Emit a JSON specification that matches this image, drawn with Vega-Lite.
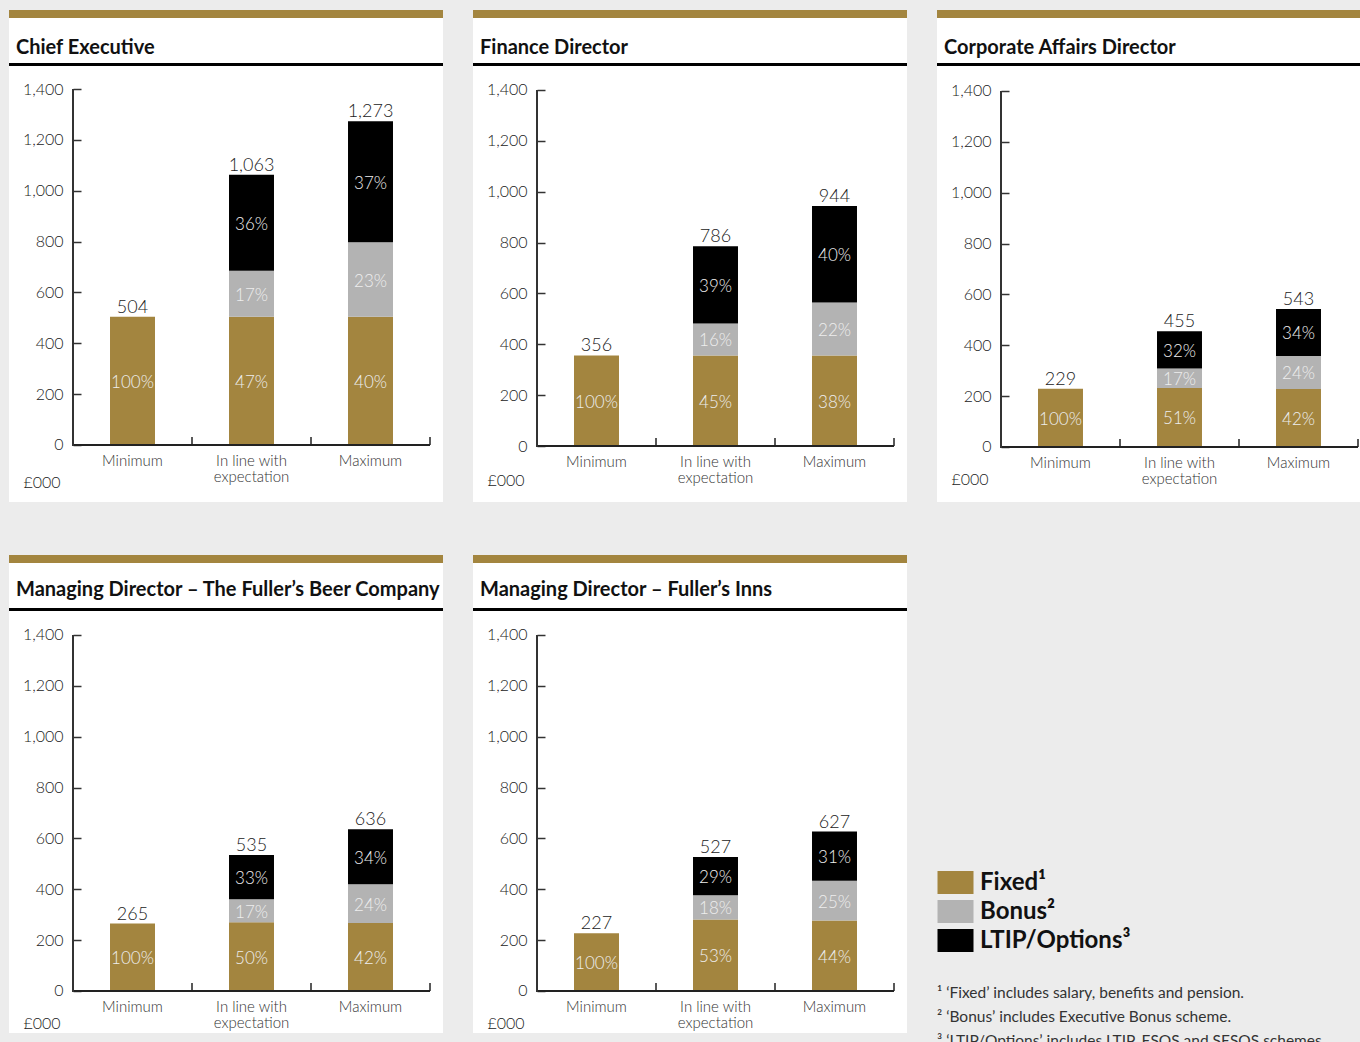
{
  "$schema": "https://vega.github.io/schema/vega-lite/v6.json",
  "background": "#ececec",
  "padding": {"left": 9, "top": 10, "right": 0, "bottom": 0},
  "data": {"values": [
    {"panel": "CE", "scenario": "Minimum", "component": "Fixed", "value": 504, "share": "100%"},
    {"panel": "CE", "scenario": "In line with expectation", "component": "Fixed", "value": 504, "share": "47%"},
    {"panel": "CE", "scenario": "In line with expectation", "component": "Bonus", "value": 181, "share": "17%"},
    {"panel": "CE", "scenario": "In line with expectation", "component": "LTIP/Options", "value": 378, "share": "36%"},
    {"panel": "CE", "scenario": "Maximum", "component": "Fixed", "value": 504, "share": "40%"},
    {"panel": "CE", "scenario": "Maximum", "component": "Bonus", "value": 293, "share": "23%"},
    {"panel": "CE", "scenario": "Maximum", "component": "LTIP/Options", "value": 476, "share": "37%"},
    {"panel": "FD", "scenario": "Minimum", "component": "Fixed", "value": 356, "share": "100%"},
    {"panel": "FD", "scenario": "In line with expectation", "component": "Fixed", "value": 356, "share": "45%"},
    {"panel": "FD", "scenario": "In line with expectation", "component": "Bonus", "value": 126, "share": "16%"},
    {"panel": "FD", "scenario": "In line with expectation", "component": "LTIP/Options", "value": 304, "share": "39%"},
    {"panel": "FD", "scenario": "Maximum", "component": "Fixed", "value": 356, "share": "38%"},
    {"panel": "FD", "scenario": "Maximum", "component": "Bonus", "value": 208, "share": "22%"},
    {"panel": "FD", "scenario": "Maximum", "component": "LTIP/Options", "value": 380, "share": "40%"},
    {"panel": "CAD", "scenario": "Minimum", "component": "Fixed", "value": 229, "share": "100%"},
    {"panel": "CAD", "scenario": "In line with expectation", "component": "Fixed", "value": 232, "share": "51%"},
    {"panel": "CAD", "scenario": "In line with expectation", "component": "Bonus", "value": 77, "share": "17%"},
    {"panel": "CAD", "scenario": "In line with expectation", "component": "LTIP/Options", "value": 146, "share": "32%"},
    {"panel": "CAD", "scenario": "Maximum", "component": "Fixed", "value": 228, "share": "42%"},
    {"panel": "CAD", "scenario": "Maximum", "component": "Bonus", "value": 130, "share": "24%"},
    {"panel": "CAD", "scenario": "Maximum", "component": "LTIP/Options", "value": 185, "share": "34%"},
    {"panel": "MDB", "scenario": "Minimum", "component": "Fixed", "value": 265, "share": "100%"},
    {"panel": "MDB", "scenario": "In line with expectation", "component": "Fixed", "value": 270, "share": "50%"},
    {"panel": "MDB", "scenario": "In line with expectation", "component": "Bonus", "value": 91, "share": "17%"},
    {"panel": "MDB", "scenario": "In line with expectation", "component": "LTIP/Options", "value": 174, "share": "33%"},
    {"panel": "MDB", "scenario": "Maximum", "component": "Fixed", "value": 267, "share": "42%"},
    {"panel": "MDB", "scenario": "Maximum", "component": "Bonus", "value": 153, "share": "24%"},
    {"panel": "MDB", "scenario": "Maximum", "component": "LTIP/Options", "value": 216, "share": "34%"},
    {"panel": "MDI", "scenario": "Minimum", "component": "Fixed", "value": 227, "share": "100%"},
    {"panel": "MDI", "scenario": "In line with expectation", "component": "Fixed", "value": 281, "share": "53%"},
    {"panel": "MDI", "scenario": "In line with expectation", "component": "Bonus", "value": 96, "share": "18%"},
    {"panel": "MDI", "scenario": "In line with expectation", "component": "LTIP/Options", "value": 150, "share": "29%"},
    {"panel": "MDI", "scenario": "Maximum", "component": "Fixed", "value": 277, "share": "44%"},
    {"panel": "MDI", "scenario": "Maximum", "component": "Bonus", "value": 157, "share": "25%"},
    {"panel": "MDI", "scenario": "Maximum", "component": "LTIP/Options", "value": 193, "share": "31%"}
  ]},
  "spacing": 53,
  "vconcat": [
    {
      "spacing": 30,
      "bounds": "flush",
      "hconcat": [
        {
          "width": 434, "height": 492,
          "view": {"fill": "#ffffff", "stroke": null},
          "title": {"text": "Chief Executive", "offset": -48},
          "transform": [
            {"filter": "datum.panel == 'CE'"},
            {"calculate": "indexof(['Fixed','Bonus','LTIP/Options'], datum.component)", "as": "k"},
            {"stack": "value", "groupby": ["scenario"], "sort": [{"field": "k", "order": "ascending"}], "as": ["v0", "v1"]},
            {"calculate": "(datum.v0 + datum.v1) / 2", "as": "mid"}
          ],
          "layer": [
            {"data": {"values": [{}]}, "mark": {"type": "rect", "color": "#a3853f"}, "encoding": {"y": {"datum": 1710.7, "type": "quantitative"}, "y2": {"datum": 1679.2}}},
            {"data": {"values": [{}]}, "mark": {"type": "rect", "color": "#000000"}, "encoding": {"y": {"datum": 1502.3, "type": "quantitative"}, "y2": {"datum": 1490.5}}},
            {"mark": {"type": "bar", "width": {"band": 0.378}}, "encoding": {
              "x": {"field": "scenario", "type": "nominal", "scale": {"domain": ["Minimum", "In line with expectation", "Maximum"], "paddingInner": 0, "paddingOuter": 0.32353, "align": 0.8312}, "axis": {"offset": -57, "title": null}},
              "y": {"field": "v0", "type": "quantitative", "scale": {"domain": [-224.2, 1710.7], "nice": false, "zero": false}, "axis": {"offset": -64, "values": [0, 200, 400, 600, 800, 1000, 1200, 1400], "title": "£000", "titleY": 477}},
              "y2": {"field": "v1"},
              "color": {"field": "component", "type": "nominal", "scale": {"domain": ["Fixed", "Bonus", "LTIP/Options"], "range": ["#a3853f", "#b3b3b3", "#000000"]},
                "legend": {"title": null, "orient": "none", "legendX": 934.5, "legendY": 860.5, "direction": "vertical", "symbolType": "M-1.565,-1L1.565,-1L1.565,1L-1.565,1Z", "symbolSize": 529, "symbolStrokeWidth": 0, "symbolOpacity": 1, "labelFont": "Lato", "labelFontSize": 24, "labelFontWeight": "bold", "labelColor": "#111111", "labelOffset": 12.5, "rowPadding": 5, "padding": 0, "labelLimit": 400, "labelExpr": "datum.label == 'Fixed' ? 'Fixed¹' : datum.label == 'Bonus' ? 'Bonus²' : 'LTIP/Options³'"}}
            }},
            {"mark": {"type": "text", "font": "Lato", "fontWeight": 300, "fontSize": 17, "color": "#eeeeee", "baseline": "middle", "dy": 2}, "encoding": {
              "x": {"field": "scenario", "type": "nominal"},
              "y": {"field": "mid", "type": "quantitative"},
              "text": {"field": "share"}}},
            {"transform": [{"aggregate": [{"op": "sum", "field": "value", "as": "total"}], "groupby": ["scenario"]}],
              "mark": {"type": "text", "font": "Lato", "fontWeight": 300, "fontSize": 18, "color": "#222222", "baseline": "alphabetic", "dy": -4},
              "encoding": {"x": {"field": "scenario", "type": "nominal"}, "y": {"field": "total", "type": "quantitative"}, "text": {"field": "total", "type": "quantitative", "format": ","}}},
            {"transform": [{"aggregate": [{"op": "count", "as": "n"}], "groupby": ["scenario"]}],
              "mark": {"type": "rect", "color": "#222222"},
              "encoding": {"x": {"field": "scenario", "type": "nominal"}, "y": {"datum": 4, "type": "quantitative"}, "y2": {"datum": -4}}},
            {"transform": [{"aggregate": [{"op": "count", "as": "n"}], "groupby": ["scenario"]}],
              "mark": {"type": "rule", "color": "#222222", "strokeWidth": 1.5},
              "encoding": {"x": {"field": "scenario", "type": "nominal", "bandPosition": 1}, "y": {"datum": 0, "type": "quantitative"}, "y2": {"datum": 31.5}}},
            {"transform": [{"aggregate": [{"op": "count", "as": "n"}], "groupby": ["scenario"]}, {"filter": "datum.scenario == 'Minimum'"}],
              "mark": {"type": "rule", "color": "#333333", "strokeWidth": 2},
              "encoding": {"x": {"field": "scenario", "type": "nominal", "bandPosition": 0}, "y": {"datum": -4, "type": "quantitative"}, "y2": {"datum": 1400}}}
          ]
        },
        {
          "width": 434, "height": 492,
          "view": {"fill": "#ffffff", "stroke": null},
          "title": {"text": "Finance Director", "offset": -48},
          "transform": [
            {"filter": "datum.panel == 'FD'"},
            {"calculate": "indexof(['Fixed','Bonus','LTIP/Options'], datum.component)", "as": "k"},
            {"stack": "value", "groupby": ["scenario"], "sort": [{"field": "k", "order": "ascending"}], "as": ["v0", "v1"]},
            {"calculate": "(datum.v0 + datum.v1) / 2", "as": "mid"}
          ],
          "layer": [
            {"data": {"values": [{}]}, "mark": {"type": "rect", "color": "#a3853f"}, "encoding": {"y": {"datum": 1714.6, "type": "quantitative"}, "y2": {"datum": 1683.1}}},
            {"data": {"values": [{}]}, "mark": {"type": "rect", "color": "#000000"}, "encoding": {"y": {"datum": 1506.2, "type": "quantitative"}, "y2": {"datum": 1494.4}}},
            {"mark": {"type": "bar", "width": {"band": 0.378}}, "encoding": {
              "x": {"field": "scenario", "type": "nominal", "scale": {"domain": ["Minimum", "In line with expectation", "Maximum"], "paddingInner": 0, "paddingOuter": 0.32353, "align": 0.8312}, "axis": {"offset": -56, "title": null}},
              "y": {"field": "v0", "type": "quantitative", "scale": {"domain": [-220.2, 1714.6], "nice": false, "zero": false}, "axis": {"offset": -64, "values": [0, 200, 400, 600, 800, 1000, 1200, 1400], "title": "£000", "titleY": 475}},
              "y2": {"field": "v1"},
              "color": {"field": "component", "type": "nominal", "scale": {"domain": ["Fixed", "Bonus", "LTIP/Options"], "range": ["#a3853f", "#b3b3b3", "#000000"]},
                "legend": {"title": null, "orient": "none", "legendX": 934.5, "legendY": 860.5, "direction": "vertical", "symbolType": "M-1.565,-1L1.565,-1L1.565,1L-1.565,1Z", "symbolSize": 529, "symbolStrokeWidth": 0, "symbolOpacity": 1, "labelFont": "Lato", "labelFontSize": 24, "labelFontWeight": "bold", "labelColor": "#111111", "labelOffset": 12.5, "rowPadding": 5, "padding": 0, "labelLimit": 400, "labelExpr": "datum.label == 'Fixed' ? 'Fixed¹' : datum.label == 'Bonus' ? 'Bonus²' : 'LTIP/Options³'"}}
            }},
            {"mark": {"type": "text", "font": "Lato", "fontWeight": 300, "fontSize": 17, "color": "#eeeeee", "baseline": "middle", "dy": 2}, "encoding": {
              "x": {"field": "scenario", "type": "nominal"},
              "y": {"field": "mid", "type": "quantitative"},
              "text": {"field": "share"}}},
            {"transform": [{"aggregate": [{"op": "sum", "field": "value", "as": "total"}], "groupby": ["scenario"]}],
              "mark": {"type": "text", "font": "Lato", "fontWeight": 300, "fontSize": 18, "color": "#222222", "baseline": "alphabetic", "dy": -4},
              "encoding": {"x": {"field": "scenario", "type": "nominal"}, "y": {"field": "total", "type": "quantitative"}, "text": {"field": "total", "type": "quantitative", "format": ","}}},
            {"transform": [{"aggregate": [{"op": "count", "as": "n"}], "groupby": ["scenario"]}],
              "mark": {"type": "rect", "color": "#222222"},
              "encoding": {"x": {"field": "scenario", "type": "nominal"}, "y": {"datum": 4, "type": "quantitative"}, "y2": {"datum": -4}}},
            {"transform": [{"aggregate": [{"op": "count", "as": "n"}], "groupby": ["scenario"]}],
              "mark": {"type": "rule", "color": "#222222", "strokeWidth": 1.5},
              "encoding": {"x": {"field": "scenario", "type": "nominal", "bandPosition": 1}, "y": {"datum": 0, "type": "quantitative"}, "y2": {"datum": 31.5}}},
            {"transform": [{"aggregate": [{"op": "count", "as": "n"}], "groupby": ["scenario"]}, {"filter": "datum.scenario == 'Minimum'"}],
              "mark": {"type": "rule", "color": "#333333", "strokeWidth": 2},
              "encoding": {"x": {"field": "scenario", "type": "nominal", "bandPosition": 0}, "y": {"datum": -4, "type": "quantitative"}, "y2": {"datum": 1400}}}
          ]
        },
        {
          "width": 423, "height": 492,
          "view": {"fill": "#ffffff", "stroke": null},
          "title": {"text": "Corporate Affairs Director", "offset": -48},
          "transform": [
            {"filter": "datum.panel == 'CAD'"},
            {"calculate": "indexof(['Fixed','Bonus','LTIP/Options'], datum.component)", "as": "k"},
            {"stack": "value", "groupby": ["scenario"], "sort": [{"field": "k", "order": "ascending"}], "as": ["v0", "v1"]},
            {"calculate": "(datum.v0 + datum.v1) / 2", "as": "mid"}
          ],
          "layer": [
            {"data": {"values": [{}]}, "mark": {"type": "rect", "color": "#a3853f"}, "encoding": {"y": {"datum": 1718.5, "type": "quantitative"}, "y2": {"datum": 1687.0}}},
            {"data": {"values": [{}]}, "mark": {"type": "rect", "color": "#000000"}, "encoding": {"y": {"datum": 1510.1, "type": "quantitative"}, "y2": {"datum": 1498.3}}},
            {"mark": {"type": "bar", "width": {"band": 0.378}}, "encoding": {
              "x": {"field": "scenario", "type": "nominal", "scale": {"domain": ["Minimum", "In line with expectation", "Maximum"], "paddingInner": 0, "paddingOuter": 0.27731, "align": 0.9697}, "axis": {"offset": -55, "title": null}},
              "y": {"field": "v0", "type": "quantitative", "scale": {"domain": [-216.3, 1718.5], "nice": false, "zero": false}, "axis": {"offset": -64, "values": [0, 200, 400, 600, 800, 1000, 1200, 1400], "title": "£000", "titleY": 474}},
              "y2": {"field": "v1"},
              "color": {"field": "component", "type": "nominal", "scale": {"domain": ["Fixed", "Bonus", "LTIP/Options"], "range": ["#a3853f", "#b3b3b3", "#000000"]},
                "legend": {"title": null, "orient": "none", "legendX": 934.5, "legendY": 860.5, "direction": "vertical", "symbolType": "M-1.565,-1L1.565,-1L1.565,1L-1.565,1Z", "symbolSize": 529, "symbolStrokeWidth": 0, "symbolOpacity": 1, "labelFont": "Lato", "labelFontSize": 24, "labelFontWeight": "bold", "labelColor": "#111111", "labelOffset": 12.5, "rowPadding": 5, "padding": 0, "labelLimit": 400, "labelExpr": "datum.label == 'Fixed' ? 'Fixed¹' : datum.label == 'Bonus' ? 'Bonus²' : 'LTIP/Options³'"}}
            }},
            {"mark": {"type": "text", "font": "Lato", "fontWeight": 300, "fontSize": 17, "color": "#eeeeee", "baseline": "middle", "dy": 2}, "encoding": {
              "x": {"field": "scenario", "type": "nominal"},
              "y": {"field": "mid", "type": "quantitative"},
              "text": {"field": "share"}}},
            {"transform": [{"aggregate": [{"op": "sum", "field": "value", "as": "total"}], "groupby": ["scenario"]}],
              "mark": {"type": "text", "font": "Lato", "fontWeight": 300, "fontSize": 18, "color": "#222222", "baseline": "alphabetic", "dy": -4},
              "encoding": {"x": {"field": "scenario", "type": "nominal"}, "y": {"field": "total", "type": "quantitative"}, "text": {"field": "total", "type": "quantitative", "format": ","}}},
            {"transform": [{"aggregate": [{"op": "count", "as": "n"}], "groupby": ["scenario"]}],
              "mark": {"type": "rect", "color": "#222222"},
              "encoding": {"x": {"field": "scenario", "type": "nominal"}, "y": {"datum": 4, "type": "quantitative"}, "y2": {"datum": -4}}},
            {"transform": [{"aggregate": [{"op": "count", "as": "n"}], "groupby": ["scenario"]}],
              "mark": {"type": "rule", "color": "#222222", "strokeWidth": 1.5},
              "encoding": {"x": {"field": "scenario", "type": "nominal", "bandPosition": 1}, "y": {"datum": 0, "type": "quantitative"}, "y2": {"datum": 31.5}}},
            {"transform": [{"aggregate": [{"op": "count", "as": "n"}], "groupby": ["scenario"]}, {"filter": "datum.scenario == 'Minimum'"}],
              "mark": {"type": "rule", "color": "#333333", "strokeWidth": 2},
              "encoding": {"x": {"field": "scenario", "type": "nominal", "bandPosition": 0}, "y": {"datum": -4, "type": "quantitative"}, "y2": {"datum": 1400}}}
          ]
        }
      ]
    },
    {
      "spacing": 30,
      "bounds": "flush",
      "hconcat": [
        {
          "width": 434, "height": 478,
          "view": {"fill": "#ffffff", "stroke": null},
          "title": {"text": "Managing Director – The Fuller’s Beer Company", "offset": -45},
          "transform": [
            {"filter": "datum.panel == 'MDB'"},
            {"calculate": "indexof(['Fixed','Bonus','LTIP/Options'], datum.component)", "as": "k"},
            {"stack": "value", "groupby": ["scenario"], "sort": [{"field": "k", "order": "ascending"}], "as": ["v0", "v1"]},
            {"calculate": "(datum.v0 + datum.v1) / 2", "as": "mid"}
          ],
          "layer": [
            {"data": {"values": [{}]}, "mark": {"type": "rect", "color": "#a3853f"}, "encoding": {"y": {"datum": 1714.6, "type": "quantitative"}, "y2": {"datum": 1683.1}}},
            {"data": {"values": [{}]}, "mark": {"type": "rect", "color": "#000000"}, "encoding": {"y": {"datum": 1506.2, "type": "quantitative"}, "y2": {"datum": 1494.4}}},
            {"mark": {"type": "bar", "width": {"band": 0.378}}, "encoding": {
              "x": {"field": "scenario", "type": "nominal", "scale": {"domain": ["Minimum", "In line with expectation", "Maximum"], "paddingInner": 0, "paddingOuter": 0.32353, "align": 0.8312}, "axis": {"offset": -42, "title": null}},
              "y": {"field": "v0", "type": "quantitative", "scale": {"domain": [-165.2, 1714.6], "nice": false, "zero": false}, "axis": {"offset": -64, "values": [0, 200, 400, 600, 800, 1000, 1200, 1400], "title": "£000", "titleY": 473}},
              "y2": {"field": "v1"},
              "color": {"field": "component", "type": "nominal", "scale": {"domain": ["Fixed", "Bonus", "LTIP/Options"], "range": ["#a3853f", "#b3b3b3", "#000000"]},
                "legend": {"title": null, "orient": "none", "legendX": 934.5, "legendY": 860.5, "direction": "vertical", "symbolType": "M-1.565,-1L1.565,-1L1.565,1L-1.565,1Z", "symbolSize": 529, "symbolStrokeWidth": 0, "symbolOpacity": 1, "labelFont": "Lato", "labelFontSize": 24, "labelFontWeight": "bold", "labelColor": "#111111", "labelOffset": 12.5, "rowPadding": 5, "padding": 0, "labelLimit": 400, "labelExpr": "datum.label == 'Fixed' ? 'Fixed¹' : datum.label == 'Bonus' ? 'Bonus²' : 'LTIP/Options³'"}}
            }},
            {"mark": {"type": "text", "font": "Lato", "fontWeight": 300, "fontSize": 17, "color": "#eeeeee", "baseline": "middle", "dy": 2}, "encoding": {
              "x": {"field": "scenario", "type": "nominal"},
              "y": {"field": "mid", "type": "quantitative"},
              "text": {"field": "share"}}},
            {"transform": [{"aggregate": [{"op": "sum", "field": "value", "as": "total"}], "groupby": ["scenario"]}],
              "mark": {"type": "text", "font": "Lato", "fontWeight": 300, "fontSize": 18, "color": "#222222", "baseline": "alphabetic", "dy": -4},
              "encoding": {"x": {"field": "scenario", "type": "nominal"}, "y": {"field": "total", "type": "quantitative"}, "text": {"field": "total", "type": "quantitative", "format": ","}}},
            {"transform": [{"aggregate": [{"op": "count", "as": "n"}], "groupby": ["scenario"]}],
              "mark": {"type": "rect", "color": "#222222"},
              "encoding": {"x": {"field": "scenario", "type": "nominal"}, "y": {"datum": 4, "type": "quantitative"}, "y2": {"datum": -4}}},
            {"transform": [{"aggregate": [{"op": "count", "as": "n"}], "groupby": ["scenario"]}],
              "mark": {"type": "rule", "color": "#222222", "strokeWidth": 1.5},
              "encoding": {"x": {"field": "scenario", "type": "nominal", "bandPosition": 1}, "y": {"datum": 0, "type": "quantitative"}, "y2": {"datum": 31.5}}},
            {"transform": [{"aggregate": [{"op": "count", "as": "n"}], "groupby": ["scenario"]}, {"filter": "datum.scenario == 'Minimum'"}],
              "mark": {"type": "rule", "color": "#333333", "strokeWidth": 2},
              "encoding": {"x": {"field": "scenario", "type": "nominal", "bandPosition": 0}, "y": {"datum": -4, "type": "quantitative"}, "y2": {"datum": 1400}}}
          ]
        },
        {
          "width": 434, "height": 478,
          "view": {"fill": "#ffffff", "stroke": null},
          "title": {"text": "Managing Director – Fuller’s Inns", "offset": -45},
          "transform": [
            {"filter": "datum.panel == 'MDI'"},
            {"calculate": "indexof(['Fixed','Bonus','LTIP/Options'], datum.component)", "as": "k"},
            {"stack": "value", "groupby": ["scenario"], "sort": [{"field": "k", "order": "ascending"}], "as": ["v0", "v1"]},
            {"calculate": "(datum.v0 + datum.v1) / 2", "as": "mid"}
          ],
          "layer": [
            {"data": {"values": [{}]}, "mark": {"type": "rect", "color": "#a3853f"}, "encoding": {"y": {"datum": 1714.6, "type": "quantitative"}, "y2": {"datum": 1683.1}}},
            {"data": {"values": [{}]}, "mark": {"type": "rect", "color": "#000000"}, "encoding": {"y": {"datum": 1506.2, "type": "quantitative"}, "y2": {"datum": 1494.4}}},
            {"mark": {"type": "bar", "width": {"band": 0.378}}, "encoding": {
              "x": {"field": "scenario", "type": "nominal", "scale": {"domain": ["Minimum", "In line with expectation", "Maximum"], "paddingInner": 0, "paddingOuter": 0.32353, "align": 0.8312}, "axis": {"offset": -42, "title": null}},
              "y": {"field": "v0", "type": "quantitative", "scale": {"domain": [-165.2, 1714.6], "nice": false, "zero": false}, "axis": {"offset": -64, "values": [0, 200, 400, 600, 800, 1000, 1200, 1400], "title": "£000", "titleY": 473}},
              "y2": {"field": "v1"},
              "color": {"field": "component", "type": "nominal", "scale": {"domain": ["Fixed", "Bonus", "LTIP/Options"], "range": ["#a3853f", "#b3b3b3", "#000000"]},
                "legend": {"title": null, "orient": "none", "legendX": 934.5, "legendY": 860.5, "direction": "vertical", "symbolType": "M-1.565,-1L1.565,-1L1.565,1L-1.565,1Z", "symbolSize": 529, "symbolStrokeWidth": 0, "symbolOpacity": 1, "labelFont": "Lato", "labelFontSize": 24, "labelFontWeight": "bold", "labelColor": "#111111", "labelOffset": 12.5, "rowPadding": 5, "padding": 0, "labelLimit": 400, "labelExpr": "datum.label == 'Fixed' ? 'Fixed¹' : datum.label == 'Bonus' ? 'Bonus²' : 'LTIP/Options³'"}}
            }},
            {"mark": {"type": "text", "font": "Lato", "fontWeight": 300, "fontSize": 17, "color": "#eeeeee", "baseline": "middle", "dy": 2}, "encoding": {
              "x": {"field": "scenario", "type": "nominal"},
              "y": {"field": "mid", "type": "quantitative"},
              "text": {"field": "share"}}},
            {"transform": [{"aggregate": [{"op": "sum", "field": "value", "as": "total"}], "groupby": ["scenario"]}],
              "mark": {"type": "text", "font": "Lato", "fontWeight": 300, "fontSize": 18, "color": "#222222", "baseline": "alphabetic", "dy": -4},
              "encoding": {"x": {"field": "scenario", "type": "nominal"}, "y": {"field": "total", "type": "quantitative"}, "text": {"field": "total", "type": "quantitative", "format": ","}}},
            {"transform": [{"aggregate": [{"op": "count", "as": "n"}], "groupby": ["scenario"]}],
              "mark": {"type": "rect", "color": "#222222"},
              "encoding": {"x": {"field": "scenario", "type": "nominal"}, "y": {"datum": 4, "type": "quantitative"}, "y2": {"datum": -4}}},
            {"transform": [{"aggregate": [{"op": "count", "as": "n"}], "groupby": ["scenario"]}],
              "mark": {"type": "rule", "color": "#222222", "strokeWidth": 1.5},
              "encoding": {"x": {"field": "scenario", "type": "nominal", "bandPosition": 1}, "y": {"datum": 0, "type": "quantitative"}, "y2": {"datum": 31.5}}},
            {"transform": [{"aggregate": [{"op": "count", "as": "n"}], "groupby": ["scenario"]}, {"filter": "datum.scenario == 'Minimum'"}],
              "mark": {"type": "rule", "color": "#333333", "strokeWidth": 2},
              "encoding": {"x": {"field": "scenario", "type": "nominal", "bandPosition": 0}, "y": {"datum": -4, "type": "quantitative"}, "y2": {"datum": 1400}}}
          ]
        },
        {
          "width": 423, "height": 487,
          "view": {"fill": null, "stroke": null},
          "data": {"values": [
            {"n": 1, "note": "¹   ‘Fixed’ includes salary, benefits and pension."},
            {"n": 2, "note": "²   ‘Bonus’ includes Executive Bonus scheme."},
            {"n": 3, "note": "³   ‘LTIP/Options’ includes LTIP, ESOS and SESOS schemes."}
          ]},
          "mark": {"type": "text", "align": "left", "baseline": "alphabetic", "font": "Lato", "fontSize": 15.5, "color": "#333333", "clip": true},
          "encoding": {
            "x": {"datum": 0, "type": "quantitative", "scale": {"domain": [0, 1]}, "axis": null},
            "y": {"field": "n", "type": "ordinal", "scale": {"type": "point", "range": [443, 491], "padding": 0}, "axis": null},
            "text": {"field": "note"}
          }
        }
      ]
    }
  ],
  "config": {
    "view": {"stroke": null},
    "title": {"anchor": "start", "frame": "group", "font": "Lato", "fontSize": 20, "fontWeight": "bold", "color": "#111111", "dx": 7, "baseline": "alphabetic"},
    "axisX": {"domain": false, "ticks": false, "grid": false, "labelAngle": 0, "labelFont": "Lato", "labelFontSize": 15, "labelFontWeight": 300, "labelColor": "#333333", "labelPadding": 8, "labelBaseline": "top", "labelLineHeight": 16, "labelExpr": "datum.value == 'In line with expectation' ? ['In line with', 'expectation'] : datum.label"},
    "axisY": {"domain": false, "grid": false, "ticks": true, "tickSize": -8, "tickWidth": 1.5, "tickColor": "#333333", "labelFont": "Lato", "labelFontSize": 16, "labelFontWeight": 300, "labelColor": "#222222", "labelPadding": 18, "labelExpr": "format(datum.value, ',')", "titleAngle": 0, "titleAlign": "left", "titleBaseline": "alphabetic", "titleX": -50, "titleFont": "Lato", "titleFontSize": 16, "titleFontWeight": 300, "titleColor": "#222222"}
  }
}
